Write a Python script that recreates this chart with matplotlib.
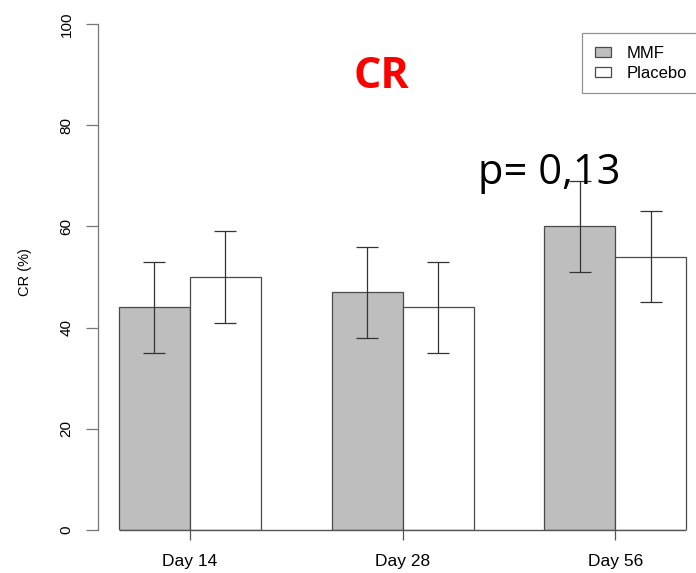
import numpy as np
import matplotlib.pyplot as plt

days = ['Day 14', 'Day 28', 'Day 56']
mmf = [44, 47, 60]
placebo = [50, 44, 54]
mmf_err = [9, 9, 9]
placebo_err = [9, 9, 9]
y_ticks = [0, 20, 40, 60, 80, 100]
p_label = 'p= 0,13'

fig = plt.figure(figsize=(6.96, 5.73), dpi=100)
ax = fig.add_axes([98 / 696, 43 / 573, 598 / 696, 506 / 573])

# R style beside barplot: bar width 1, one bar gap between groups
group_pos = np.arange(len(days)) * 3 + 2
mmf_x = group_pos - 0.5
pl_x = group_pos + 0.5

edge = '#4a4a4a'
ax.bar(mmf_x, mmf, width=1, color='#bebebe', edgecolor=edge, linewidth=0.9,
       label='MMF', zorder=2)
ax.bar(pl_x, placebo, width=1, color='white', edgecolor=edge, linewidth=0.9,
       label='Placebo', zorder=2)

ax.errorbar(mmf_x, mmf, yerr=mmf_err, fmt='none', ecolor='#333333',
            elinewidth=0.9, capsize=8, capthick=0.9, zorder=3)
ax.errorbar(pl_x, placebo, yerr=placebo_err, fmt='none', ecolor='#333333',
            elinewidth=0.9, capsize=8, capthick=0.9, zorder=3)

# baseline under the bars
ax.hlines(0, mmf_x[0] - 0.5, pl_x[-1] + 0.5, color='#555555', linewidth=1.0,
          zorder=3, clip_on=False)

ax.set_xlim(0.704, 9.138)
ax.set_ylim(0, 100)
ax.set_yticks(y_ticks)
ax.set_yticklabels([str(v) for v in y_ticks], rotation=90, va='center',
                   fontsize=11, family='Liberation Sans')
ax.set_xticks(group_pos)
ax.set_xticklabels(days, fontsize=12.5, family='Liberation Sans')
ax.tick_params(axis='y', length=8.6, width=0.9, color='#777777', pad=9)
ax.tick_params(axis='x', length=7.2, width=0.9, color='#555555', pad=10)

for side in ['top', 'right', 'bottom']:
    ax.spines[side].set_visible(False)
ax.spines['left'].set_color('#777777')
ax.spines['left'].set_linewidth(0.9)
ax.spines['left'].set_bounds(0, 100)
ax.patch.set_alpha(0)

ax.set_ylabel('CR (%)', fontsize=10.5, family='Liberation Sans', labelpad=17)
ax.yaxis.set_label_coords(-0.11, 0.51)

leg = ax.legend(loc='upper left', bbox_to_anchor=(582 / 696, 1 - 33 / 573),
                bbox_transform=fig.transFigure, fancybox=False,
                prop={'family': 'Liberation Sans', 'size': 12},
                handlelength=1.0, handleheight=0.55, handletextpad=0.9,
                borderpad=0.75, labelspacing=0.3, borderaxespad=0)
leg.get_frame().set_edgecolor('#777777')
leg.get_frame().set_linewidth(0.9)

fig.text(381 / 696, 1 - 88 / 573, 'CR', color='#ff0000', fontsize=31,
         fontweight='bold', family='Open Sans', ha='center', va='baseline')
fig.text(478 / 696, 1 - 184 / 573, p_label, color='black', fontsize=30,
         family='Open Sans', ha='left', va='baseline', zorder=5)

fig.savefig('out.png', dpi=100)
